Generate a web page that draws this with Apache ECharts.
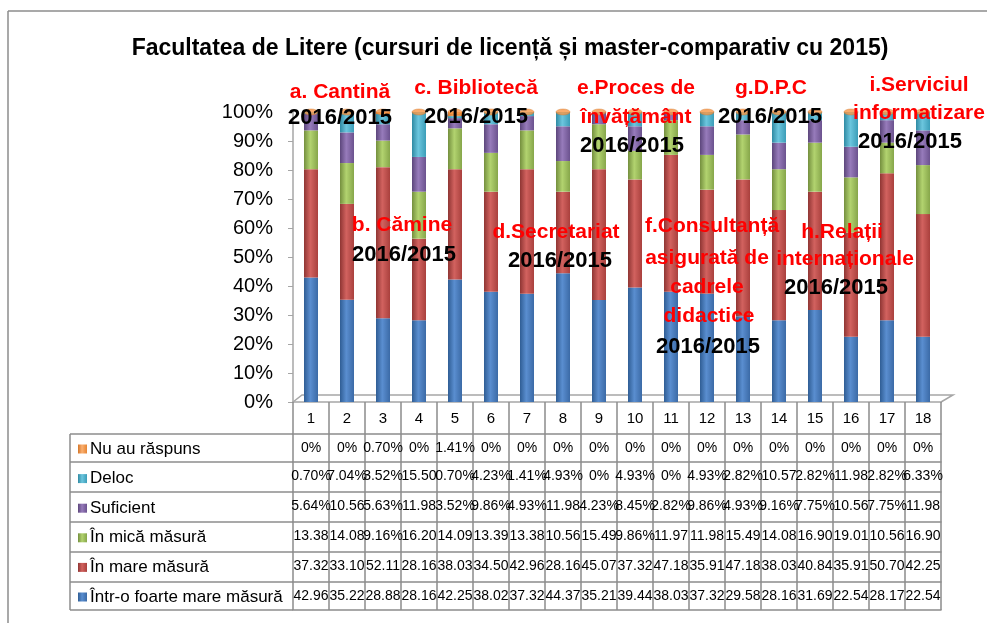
<!DOCTYPE html>
<html>
<head>
<meta charset="utf-8">
<script src="https://cdn.jsdelivr.net/npm/echarts@6/dist/echarts.min.js"></script>
<style>html,body{margin:0;padding:0;background:#fff}#c{width:987px;height:623px}</style>
</head>
<body>
<div id="c"></div>
<script>
const categories = ['1','2','3','4','5','6','7','8','9','10','11','12','13','14','15','16','17','18'];
const yTicks = [0,10,20,30,40,50,60,70,80,90,100];
const foarteMare = [42.96,35.22,28.88,28.16,42.25,38.02,37.32,44.37,35.21,39.44,38.03,37.32,29.58,28.16,31.69,22.54,28.17,22.54];
const mare = [37.32,33.10,52.11,28.16,38.03,34.50,42.96,28.16,45.07,37.32,47.18,35.91,47.18,38.03,40.84,35.91,50.70,42.25];
const mica = [13.38,14.08,9.16,16.20,14.09,13.39,13.38,10.56,15.49,9.86,11.97,11.98,15.49,14.08,16.90,19.01,10.56,16.90];
const suficient = [5.64,10.56,5.63,11.98,3.52,9.86,4.93,11.98,4.23,8.45,2.82,9.86,4.93,9.16,7.75,10.56,7.75,11.98];
const deloc = [0.70,7.04,3.52,15.50,0.70,4.23,1.41,4.93,0,4.93,0,4.93,2.82,10.57,2.82,11.98,2.82,6.33];
const nuAu = [0,0,0.70,0,1.41,0,0,0,0,0,0,0,0,0,0,0,0,0];

const seriesDefs = [
  {name:'Într-o foarte mare măsură', data:foarteMare, c:['#2f5d94','#5a8ed0','#3b6aa6']},
  {name:'În mare măsură', data:mare, c:['#8f3533','#d2625f','#a9403d']},
  {name:'În mică măsură', data:mica, c:['#748f3e','#b2d36f','#86a64a']},
  {name:'Suficient', data:suficient, c:['#5c467b','#977bbb','#6b528e']},
  {name:'Deloc', data:deloc, c:['#2f8aa3','#6cc6de','#3b9db8']},
  {name:'Nu au răspuns', data:nuAu, c:['#d47628','#fbb071','#e58533']}
];
// table rows from top to bottom
const tableRows = [nuAu, deloc, suficient, mica, mare, foarteMare];
const rowLines = [434, 462, 492, 522, 552, 582, 610];
const baseY = 402;

function fmt(v){ if(v===0) return '0%'; return v>=10 ? v.toFixed(2) : v.toFixed(2)+'%'; }
function grad(c){ return {type:'linear',x:0,y:0,x2:1,y2:0,colorStops:[{offset:0,color:c[0]},{offset:0.45,color:c[1]},{offset:1,color:c[2]}]}; }

const totals = categories.map((_,i)=>seriesDefs.reduce((s,d)=>s+d.data[i],0));

const xAxes = [{
  type:'category', data:categories, gridIndex:0, position:'bottom',
  axisLine:{show:true, lineStyle:{color:'#a6a6a6', width:1.5}},
  axisTick:{show:true, length:208, alignWithLabel:false, lineStyle:{color:'#8c8c8c', width:1.5}},
  axisLabel:{color:'#000', fontSize:15, fontFamily:'Liberation Sans', margin:9}
}];
tableRows.forEach((arr,k)=>{
  xAxes.push({
    type:'category', data:arr.map(fmt), gridIndex:0, position:'bottom', offset:rowLines[k]-baseY,
    axisLine:{show:true, lineStyle:{color:'#8c8c8c', width:1.5}},
    axisTick:{show:false},
    axisLabel:{color:'#000', fontSize:14, fontFamily:'Liberation Sans', margin:7, interval:0}
  });
});
xAxes.push({
  type:'category', data:categories, gridIndex:0, position:'bottom', offset:rowLines[6]-baseY,
  axisLine:{show:true, lineStyle:{color:'#8c8c8c', width:1.5}},
  axisTick:{show:false}, axisLabel:{show:false}
});

const series = seriesDefs.map(d=>({
  name:d.name, type:'bar', stack:'s', data:d.data, barWidth:14,
  itemStyle:{color:grad(d.c)}, emphasis:{disabled:true}
}));
series.push({
  type:'scatter', data:totals, symbol:'circle', symbolSize:[14,6],
  itemStyle:{color:'#f79646', borderColor:'#d47628', borderWidth:0.5}, z:5, silent:true
});

const red = {fill:'#ff0000', font:'bold 21px "Liberation Sans"', textAlign:'center', textVerticalAlign:'middle'};
const blk = {fill:'#000', font:'bold 22px "Liberation Sans"', textAlign:'center', textVerticalAlign:'middle'};
function t(txt,x,y,st){ return {type:'text', x:x, y:y, z:100, style:Object.assign({text:txt}, st)}; }

const annotations = [
  t('a. Cantină',340,92,red), t('2016/2015',340,118,blk),
  t('b. Cămine',402,225,red), t('2016/2015',404,255,blk),
  t('c. Bibliotecă',476,88,red), t('2016/2015',476,117,blk),
  t('d.Secretariat',556,232,red), t('2016/2015',560,261,blk),
  t('e.Proces de',636,88,red), t('învățământ',636,117,red), t('2016/2015',632,146,blk),
  t('f.Consultanță',712,226,red), t('asigurată de',707,258,red), t('cadrele',707,287,red), t('didactice',709,316,red), t('2016/2015',708,347,blk),
  t('g.D.P.C',771,88,red), t('2016/2015',770,117,blk),
  t('h.Relații',842,232,red), t('internaționale',845,259,red), t('2016/2015',836,288,blk),
  t('i.Serviciul',919,85,red), t('informatizare',919,113,red), t('2016/2015',910,142,blk)
];

const frame = [
  {type:'line', shape:{x1:8,y1:11,x2:987,y2:11}, style:{stroke:'#8c8c8c', lineWidth:1.5}},
  {type:'line', shape:{x1:8,y1:11,x2:8,y2:623}, style:{stroke:'#8c8c8c', lineWidth:1.5}},
  {type:'line', shape:{x1:70,y1:rowLines[0],x2:70,y2:rowLines[6]}, style:{stroke:'#8c8c8c', lineWidth:1.5}},
  {type:'polyline', shape:{points:[[293,402],[302,395],[953,395],[941,402]]}, style:{stroke:'#a6a6a6', lineWidth:1.5, fill:'none'}}
];
rowLines.forEach(y=>frame.push({type:'line', shape:{x1:70,y1:y,x2:293,y2:y}, style:{stroke:'#8c8c8c', lineWidth:1.5}}));

const chart = echarts.init(document.getElementById('c'), null, {renderer:'canvas'});
chart.setOption({
  animation:false,
  backgroundColor:'#fff',
  title:{text:'Facultatea de Litere (cursuri de licență și master-comparativ cu 2015)', left:505, textAlign:'center', top:32,
    textStyle:{fontSize:23, fontWeight:'bold', color:'#000', fontFamily:'Liberation Sans'}},
  legend:{orient:'vertical', left:73, top:435, itemGap:11.6, itemWidth:9, itemHeight:9, icon:'rect',
    data:['Nu au răspuns','Deloc','Suficient','În mică măsură','În mare măsură','Într-o foarte mare măsură'],
    textStyle:{fontSize:17, color:'#000', fontFamily:'Liberation Sans', lineHeight:18, padding:[0,0,0,-2]}, selectedMode:false},
  grid:{left:293, right:46, top:112, bottom:221, containLabel:false},
  xAxis:xAxes,
  yAxis:{type:'value', min:0, max:100, interval:10,
    axisLine:{show:true, lineStyle:{color:'#a6a6a6', width:1.5}},
    axisTick:{show:true, length:5, lineStyle:{color:'#a6a6a6'}},
    splitLine:{show:false},
    axisLabel:{formatter:'{value}%', fontSize:20, color:'#000', fontFamily:'Liberation Sans', margin:20}},
  series:series,
  graphic:frame.concat(annotations)
});
</script>
</body>
</html>
